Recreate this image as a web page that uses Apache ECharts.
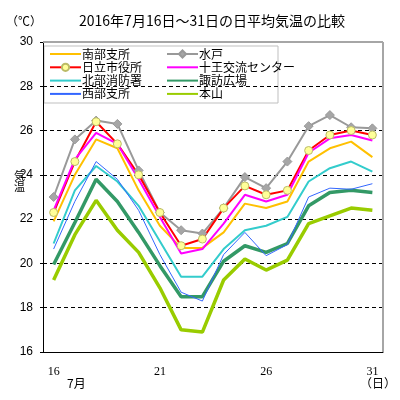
<!DOCTYPE html>
<html><head><meta charset="utf-8">
<script src="https://cdn.jsdelivr.net/npm/echarts@6/dist/echarts.min.js"></script>
<style>html,body{margin:0;padding:0;background:#fff}#c{width:400px;height:400px}</style>
</head><body><div id="c"></div>
<script>
const days = ['16','17','18','19','20','21','22','23','24','25','26','27','28','29','30','31'];
const yTicks = [16, 30, 2];
const nanbu   = [21.9,24.0,25.6,25.2,23.3,21.7,20.7,20.7,21.4,22.7,22.5,22.8,24.6,25.2,25.5,24.8];
const mito    = [23.0,25.6,26.45,26.3,24.2,22.3,21.5,21.35,22.5,23.9,23.4,24.6,26.2,26.7,26.15,26.1];
const hitachi = [22.3,24.6,26.4,25.4,24.0,22.3,20.8,21.1,22.5,23.5,23.1,23.3,25.1,25.8,26.0,25.8];
const juo     = [22.4,24.7,25.9,25.4,23.8,22.1,20.45,20.65,21.8,23.1,22.8,23.1,25.0,25.65,25.8,25.55];
const hokubu  = [20.9,23.3,24.4,23.7,22.6,21.0,19.4,19.4,20.65,21.5,21.7,22.1,23.7,24.3,24.6,24.15];
const suwa    = [19.95,21.85,23.8,22.8,21.4,19.9,18.5,18.5,20.1,20.8,20.5,20.9,22.6,23.2,23.3,23.2];
const seibu   = [20.65,22.8,24.6,23.8,22.4,20.4,18.7,18.3,20.4,21.4,20.35,20.85,23.0,23.4,23.35,23.6];
const motoyama= [19.25,21.3,22.85,21.5,20.5,18.9,17.0,16.9,19.25,20.2,19.7,20.15,21.8,22.15,22.5,22.4];
const names = ['南部支所','水戸','日立市役所','十王交流センター','北部消防署','諏訪広場','西部支所','本山'];

const chart = echarts.init(document.getElementById('c'));
const lf = '"Noto Sans CJK JP", sans-serif';
const noMark = {itemStyle: {color: 'rgba(0,0,0,0)', borderColor: 'rgba(0,0,0,0)', borderWidth: 0}};
function li(i, plain) { return plain ? Object.assign({name: names[i]}, noMark) : {name: names[i]}; }
function ser(name, data, color, width, extra) {
  return Object.assign({
    name: name, type: 'line', data: data, color: color,
    symbol: 'none', showSymbol: false, animation: false,
    lineStyle: {color: color, width: width}
  }, extra || {});
}
const legText = {fontSize: 12, lineHeight: 12, color: '#000', fontFamily: lf, padding: [0,0,0,-4]};
chart.setOption({
  animation: false,
  title: {text: '2016年7月16日～31日の日平均気温の比較', left: 207, textAlign: 'center', top: 9,
    textStyle: {fontSize: 14, fontWeight: 'normal', color: '#000', fontFamily: lf}},
  grid: {left: 43, right: 17, top: 42, bottom: 48, show: false},
  legend: [
    {data: [li(0,true), li(2,false), li(4,true), li(6,true)], orient: 'vertical', left: 47, top: 46,
     itemWidth: 31, itemHeight: 9, itemGap: 1.3, padding: 2, textStyle: legText},
    {data: [li(1,false), li(3,true), li(5,true), li(7,true)], orient: 'vertical', left: 164, top: 46,
     itemWidth: 31, itemHeight: 9, itemGap: 1.3, padding: 2, textStyle: legText}
  ],
  xAxis: {type: 'category', data: days, boundaryGap: true,
    axisLine: {lineStyle: {color: '#000', width: 1}},
    axisTick: {inside: true, length: 4, lineStyle: {color: '#000'}},
    axisLabel: {interval: 4, margin: 14, fontSize: 12, color: '#000', fontFamily: '"Liberation Serif", serif'},
    splitLine: {show: false}},
  yAxis: {type: 'value', min: yTicks[0], max: yTicks[1], interval: yTicks[2],
    axisLine: {show: true, lineStyle: {color: '#000', width: 1}},
    axisTick: {show: true, length: 3, lineStyle: {color: '#000'}},
    axisLabel: {margin: 10, fontSize: 12, color: '#000', fontFamily: '"Liberation Sans", sans-serif'},
    splitLine: {lineStyle: {color: '#000', type: [4, 3], width: 1}}},
  graphic: [
    {type: 'line', shape: {x1: 43, y1: 42, x2: 383, y2: 42}, style: {stroke: '#a6a6a6', lineWidth: 2}, z: 100},
    {type: 'line', shape: {x1: 383, y1: 42, x2: 383, y2: 352}, style: {stroke: '#a6a6a6', lineWidth: 2}, z: 100},
    {type: 'rect', shape: {x: 44, y: 46, width: 234, height: 57}, style: {fill: '#fff', stroke: '#bfbfbf', lineWidth: 1}, z: 0},
    {type: 'text', left: 6, top: 15, style: {text: '（℃）', fill: '#000', font: '12px ' + lf}},
    {type: 'text', left: 14, top: 170, style: {text: '気\n温', lineHeight: 11, fill: '#000', font: '11px ' + lf}},
    {type: 'text', left: 67, top: 377, style: {text: '7月', fill: '#000', font: '12px ' + lf}},
    {type: 'text', left: 360, top: 377, style: {text: '（日）', fill: '#000', font: '12px ' + lf}}
  ],
  series: [
    ser(names[0], nanbu, '#ffc000', 2),
    ser(names[1], mito, '#999999', 2, {symbol: 'diamond', showSymbol: true, symbolSize: 9,
      itemStyle: {color: '#a6a6a6', borderColor: '#999', borderWidth: 1}}),
    ser(names[2], hitachi, '#ff0000', 2, {symbol: 'circle', showSymbol: true, symbolSize: 8,
      itemStyle: {color: '#ffff99', borderColor: '#bbbb66', borderWidth: 1}}),
    ser(names[3], juo, '#ff00ff', 2),
    ser(names[4], hokubu, '#33cccc', 2),
    ser(names[5], suwa, '#339966', 3.5),
    ser(names[6], seibu, '#3366ff', 1),
    ser(names[7], motoyama, '#99cc00', 3.5)
  ]
});
</script></body></html>
